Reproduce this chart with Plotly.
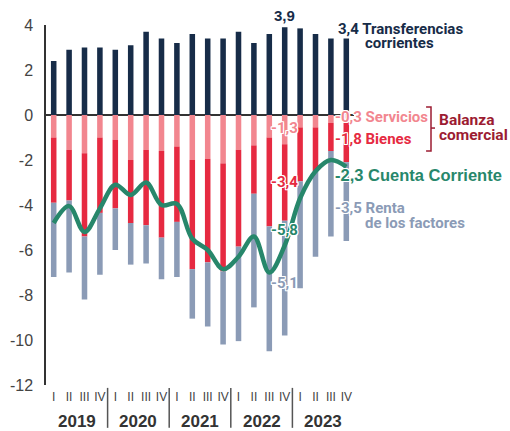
import plotly.graph_objects as go

# ---- data ----
years = ["2019", "2020", "2021", "2022", "2023"]
quarters = ["I", "II", "III", "IV"]
transferencias = [2.4, 2.9, 3.0, 3.0, 2.9, 3.1, 3.7, 3.4, 3.2, 3.6, 3.4, 3.4, 3.7, 3.2, 3.6, 3.9, 3.85, 3.6, 3.4, 3.4]
servicios = [-1.0, -1.55, -1.7, -1.0, -1.1, -2.0, -1.55, -1.6, -1.4, -2.0, -1.95, -2.15, -1.55, -1.35, -1.0, -1.3, -0.55, -0.55, -0.35, -0.3]
bienes = [-2.9, -2.25, -3.7, -3.35, -3.05, -2.8, -3.35, -3.85, -3.35, -4.85, -4.6, -4.8, -4.3, -2.15, -3.95, -3.4, -2.4, -1.95, -1.25, -1.8]
renta = [-3.3, -3.2, -2.8, -2.75, -1.85, -1.85, -1.7, -1.85, -2.45, -2.2, -2.85, -3.25, -4.2, -5.05, -5.55, -5.1, -4.75, -3.8, -3.8, -3.5]
cuenta_corriente = [-4.8, -4.05, -5.2, -4.15, -3.1, -3.55, -3.0, -4.0, -3.95, -5.5, -6.0, -6.85, -6.3, -5.4, -7.0, -5.8, -3.7, -2.5, -2.0, -2.3]
y_ticks = [4, 2, 0, -2, -4, -6, -8, -10, -12]

# ---- styles ----
C_NAVY = "#172c48"
C_PINK = "#f2868f"
C_RED = "#e62a41"
C_GREY = "#8b9bb6"
C_GREEN = "#27876b"
C_DRED = "#9c1c32"
NARROW = "Roboto, Liberation Sans, sans-serif"
REG = "Liberation Sans, Arial, sans-serif"
OUTLINE = "1px 1px 0 white, -1px -1px 0 white, 1px -1px 0 white, -1px 1px 0 white, 0 1px 0 white, 0 -1px 0 white, 1px 0 0 white, -1px 0 0 white"

labels = [f"{y}-{q}" for y in years for q in quarters]
xs = list(range(len(labels)))
qtext = [q for y in years for q in quarters]
X0, X1 = -0.5, len(xs) - 0.5
Y0, Y1 = -12, 4

def px(x):
    return (x - X0) / (X1 - X0)

def py(y):
    return (y - Y0) / (Y1 - Y0)

def fmt(v):
    return f"{v:.1f}".replace(".", ",")

fig = go.Figure()
bw = 0.36
fig.add_bar(x=xs, y=transferencias, marker_color=C_NAVY, width=bw, marker_line_width=0)
fig.add_bar(x=xs, y=servicios, marker_color=C_PINK, width=bw, marker_line_width=0)
fig.add_bar(x=xs, y=bienes, marker_color=C_RED, width=bw, marker_line_width=0)
fig.add_bar(x=xs, y=renta, marker_color=C_GREY, width=bw, marker_line_width=0)
fig.add_scatter(x=xs, y=cuenta_corriente, mode="lines",
                line=dict(color=C_GREEN, width=4.5, shape="spline", smoothing=1.0))

anns = []
last = len(xs) - 1
hi = 15  # highlighted quarter (2022 IV)

def ann(x, y, text, color, size=14.5, family=NARROW, xanchor="left", bold=True, shadow=OUTLINE):
    t = f"<b>{text}</b>" if bold else text
    anns.append(dict(x=px(x), y=py(y), xref="paper", yref="paper", text=t,
                     showarrow=False, xanchor=xanchor, yanchor="middle",
                     font=dict(color=color, size=size, family=family, shadow=shadow)))

# labels on highlighted quarter
ann(xs[hi], 4.44, fmt(transferencias[hi]), C_NAVY, 15, REG, "center", shadow="none")
ann(xs[hi], -0.58, fmt(servicios[hi]), C_PINK, 15, xanchor="center")
ann(xs[hi], -2.96, fmt(bienes[hi]), C_RED, 15, xanchor="center")
ann(xs[hi], -5.11, fmt(cuenta_corriente[hi]), C_GREEN, 15, xanchor="center")
ann(xs[hi], -7.47, fmt(renta[hi]), C_GREY, 15, xanchor="center")

# right-side series labels
ann(18.33, 3.82, f"{fmt(transferencias[last])} Transferencias", C_NAVY, 15)
ann(20.08, 3.18, "corrientes", C_NAVY, 15)
ann(18.14, -0.09, f"{fmt(servicios[last])} Servicios", C_PINK, 15)
ann(18.14, -1.07, f"{fmt(bienes[last])} Bienes", C_RED, 15)
ann(18.14, -2.67, f"{fmt(cuenta_corriente[last])} Cuenta Corriente", C_GREEN, 16.5, REG)
ann(18.14, -4.13, f"{fmt(renta[last])} Renta", C_GREY, 15)
ann(20.08, -4.80, "de los factores", C_GREY, 15)
ann(24.87, -0.22, "Balanza", C_DRED, 15.5, shadow="none")
ann(24.87, -0.89, "comercial", C_DRED, 15.5, shadow="none")

# year labels
for i, y in enumerate(years):
    anns.append(dict(x=px(i * 4 + 1.5), y=-0.102, xref="paper", yref="paper", text=f"<b>{y}</b>",
                     showarrow=False, xanchor="center", yanchor="middle",
                     font=dict(color="#333333", size=17, family=REG)))

shapes = []
for i in range(1, len(years)):
    shapes.append(dict(type="line", xref="x", yref="paper", x0=i * 4 - 0.5, x1=i * 4 - 0.5,
                       y0=-0.008, y1=-0.119, line=dict(color="#555555", width=1.5)))
# bracket for Balanza comercial
bx0, bx1, bx2 = px(24.18), px(24.5), px(24.76)
shapes.append(dict(type="path", xref="paper", yref="paper",
                   path=f"M {bx0} {py(0.36)} L {bx1} {py(0.36)} L {bx1} {py(-1.6)} L {bx0} {py(-1.6)}",
                   line=dict(color=C_DRED, width=1.5)))
shapes.append(dict(type="line", xref="paper", yref="paper", x0=bx1, x1=bx2, y0=py(-0.58), y1=py(-0.58),
                   line=dict(color=C_DRED, width=1.5)))

fig.update_layout(
    width=510, height=431,
    margin=dict(l=46, r=156, t=25, b=46, autoexpand=False),
    barmode="relative",
    showlegend=False,
    plot_bgcolor="white", paper_bgcolor="white",
    annotations=anns, shapes=shapes,
    xaxis=dict(range=[X0, X1], tickvals=xs, ticktext=qtext, showgrid=False, zeroline=False,
               showline=False, ticks="", tickfont=dict(size=12, color="#444444", family=REG),
               ticklabelstandoff=3, automargin=False),
    yaxis=dict(range=[Y0, Y1], tickvals=y_ticks, ticktext=[str(v) for v in y_ticks],
               showgrid=False, zeroline=True,
               zerolinecolor="#333333", zerolinewidth=1.5, showline=True, linecolor="#333333",
               linewidth=1.5, ticks="", tickfont=dict(size=16, color="#444444", family=REG),
               ticklabelstandoff=8, layer="above traces", automargin=False),
)

fig.write_html("out.html", config={"displayModeBar": False},
               post_script="document.body.style.margin='0px';")
